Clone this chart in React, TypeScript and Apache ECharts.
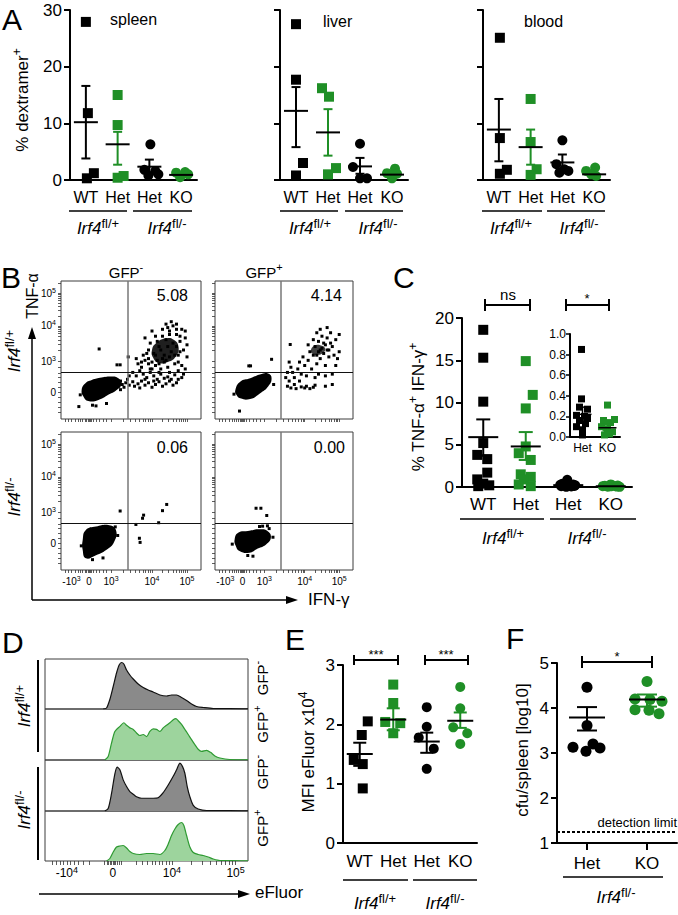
import React, { useEffect, useRef } from "react";
import * as echarts from "echarts";

const FONT = "'Liberation Sans', Arial, Helvetica, sans-serif";
const GREEN = "#1f8f26";
const BLACK = "#000000";

// ================= Panel A (% dextramer+) =================
const aCategories = ["WT", "Het", "Het", "KO"];
const aYTicks = [0, 10, 20, 30];

const spleenWT = [27.9, 11.8, 0.3, 1.2];
const spleenHetGreen = [15.0, 9.7, 0.4, 0.7];
const spleenHetBlack = [6.3, 1.8, 1.6, 1.0, 0.8];
const spleenKO = [1.3, 1.4, 0.5, 1.0];
const spleenMean = [10.2, 6.3, 2.35, 0.9];
const spleenSemLow = [3.8, 2.7, 1.2, 0.8];
const spleenSemHigh = [16.6, 8.5, 3.6, 1.0];
const spleenJitter = [[0, 2, 1, 8], [0, 0, 0, 6], [1, -5, 6, 9, -1], [-5, 4, -1, 7]];

const liverWT = [27.5, 17.7, 3.0, 0.8];
const liverHetGreen = [16.2, 14.7, 2.1, 1.0];
const liverHetBlack = [6.4, 2.3, 0.3, 0.3];
const liverKO = [2.0, 1.2, 0.3, 1.1];
const liverMean = [12.2, 8.4, 2.4, 0.95];
const liverSemLow = [5.8, 4.3, 1.1, 0.6];
const liverSemHigh = [16.4, 12.5, 3.9, 1.3];
const liverJitter = [[0, 0, 7, 0], [-6, 1, 8, 0], [0, -7, 0, 7], [3, -5, 0, 5]];

const bloodWT = [25.1, 7.4, 1.1, 1.8];
const bloodHetGreen = [14.3, 6.7, 1.9, 0.9];
const bloodHetBlack = [7.0, 2.8, 1.9, 1.3, 1.6];
const bloodKO = [2.2, 1.6, 1.0, 0.7];
const bloodMean = [8.9, 5.8, 3.1, 1.0];
const bloodSemLow = [3.3, 2.7, 1.8, 0.7];
const bloodSemHigh = [14.3, 8.9, 4.5, 1.3];
const bloodJitter = [[1, 1, 1, 8], [0, 0, 6, 0], [0, -6, 2, -3, 6], [1, -8, -3, 2]];

// ================= Panel C (% TNF-a+ IFN-g+) =================
const cCategories = ["WT", "Het", "Het", "KO"];
const cYTicks = [0, 5, 10, 15, 20];
const cWT = [18.6, 15.3, 10.1, 5.2, 3.8, 3.3, 1.7, 0.9, 0.4, 0.2, 0.1];
const cHetGreen = [14.9, 10.9, 9.3, 4.8, 4.0, 3.2, 1.5, 1.2, 0.9, 0.3, 0.1];
const cHetBlack = [0.85, 0.37, 0.29, 0.27, 0.21, 0.2, 0.18, 0.16, 0.13, 0.1, 0.07, 0.02];
const cKO = [0.31, 0.17, 0.16, 0.14, 0.1, 0.08, 0.05, 0.03, 0.02];
const cMean = [5.9, 4.8, 0.22, 0.09];
const cSemLow = [3.7, 3.2, 0.15, 0.06];
const cSemHigh = [8.0, 6.5, 0.29, 0.12];
const cJitter = [
  [0, 0, 0, 0, -6, 4, 4, -6, 0, 6, -5],
  [0, 7, 0, 0, -7, 5, -5, 5, -2, -7, 5],
  [-1, -6, 5, -8, 2, 7, -4, 0, 6, -7, 3, -2],
  [0, 7, -6, 3, -8, 0, 6, -3, 9],
];
const insetCategories = ["Het", "KO"];
const insetMean = [0.22, 0.09];
const insetSemLow = [0.15, 0.06];
const insetSemHigh = [0.29, 0.12];
const insetJitter = [[-1, -1, -3, 5, -6, 2, 5, -3, 3, -6, 0, 0], [0, 7, -4, 3, -6, 0, 5, 2, -3]];

// ================= Panel E (MFI eFluor) =================
const eCategories = ["WT", "Het", "Het", "KO"];
const eWT = [2.05, 1.82, 1.4, 1.33, 0.92];
const eHetGreen = [2.67, 2.36, 2.04, 2.02, 1.85];
const eHetBlack = [2.29, 1.96, 1.78, 1.59, 1.25];
const eKO = [2.63, 2.27, 1.95, 1.85, 1.67];
const eMean = [1.5, 2.08, 1.71, 2.06];
const eSemLow = [1.3, 1.9, 1.52, 1.94];
const eSemHigh = [1.69, 2.27, 1.86, 2.2];
const eJitter = [[8, 2, -6, 3, 3], [0, 0, -8, 7, 0], [0, 0, -8, 7, 0], [0, 0, -7, 7, 0]];

// ================= Panel F (cfu/spleen) =================
const fCategories = ["Het", "KO"];
const fHet = [4.46, 3.61, 3.13, 3.04, 3.11, 3.2];
const fKO = [4.59, 4.2, 4.19, 4.15, 3.96, 3.95, 3.87];
const fMean = [3.79, 4.19];
const fSemLow = [3.5, 4.03];
const fSemHigh = [4.02, 4.3];
const fJitter = [[0, 0, -14, -1, 13, 6], [0, -12, 3, 15, -12, 2, 12]];
const detectionLimit = 1.25;

// ================= Panel B (flow plots, display-scale units) =================
const flowGateX = 1.91;
const flowGateY = 1.36;
const flowXLabelVals = [0.3, 0.8, 1.43, 2.6, 3.6];
const flowXLabelText = ["{b|-10}{s|3}", "{b|0}", "{b|10}{s|3}", "{b|10}{s|4}", "{b|10}{s|5}"];
const flowYLabelVals = [0.78, 1.68, 2.7, 3.65];
const flowYLabelText = ["{b|0}", "{b|10}{s|3}", "{b|10}{s|4}", "{b|10}{s|5}"];
const flowQuadrantValues = ["5.08", "4.14", "0.06", "0.00"];

const flowTLCore = [[0.59, 0.84], [0.69, 1.03], [0.88, 1.13], [1.16, 1.2], [1.45, 1.23], [1.64, 1.18], [1.73, 1.03], [1.59, 0.84], [1.35, 0.7], [1.07, 0.55], [0.78, 0.52], [0.64, 0.65]];
const flowTLCloudCore = [[2.72, 2.2], [2.97, 2.33], [3.22, 2.3], [3.36, 2.08], [3.27, 1.8], [3.07, 1.66], [2.8, 1.62], [2.63, 1.78], [2.6, 2.0]];
const flowTLDots = [
  [1.65, 0.95], [1.7, 1.1], [1.8, 0.92], [1.75, 1.0], [1.85, 1.05], [1.95, 0.98], [2.05, 1.08], [2.1, 0.95], [2.2, 1.02], [2.3, 1.1], [2.25, 0.9], [2.4, 0.98], [2.5, 1.05], [2.45, 1.2], [2.6, 0.92], [2.7, 1.0], [2.8, 1.08], [2.9, 0.95], [3.0, 1.02], [3.1, 1.1], [3.2, 0.98], [3.3, 1.05], [2.35, 1.3], [2.55, 1.35], [2.65, 1.25], [2.85, 1.3], [3.05, 1.22], [3.25, 1.28], [2.75, 1.15], [2.95, 1.18], [3.35, 1.15], [1.9, 1.15], [2.15, 1.25], [2.65, 1.1], [3.15, 1.15], [3.45, 1.2], [3.5, 1.3], [2.4, 1.15], [2.05, 1.35], [1.95, 1.25],
  [2.3, 1.5], [2.4, 1.7], [2.45, 1.9], [2.5, 1.6], [2.55, 2.2], [2.6, 1.45], [2.65, 1.9], [2.7, 2.4], [2.75, 1.7], [2.8, 2.1], [2.85, 1.45], [2.9, 2.6], [2.95, 1.85], [3.0, 2.3], [3.05, 1.5], [3.1, 2.55], [3.15, 1.95], [3.2, 2.7], [3.25, 1.6], [3.3, 2.45], [3.35, 1.85], [3.4, 2.25], [3.45, 1.55], [3.5, 2.0], [3.55, 2.35], [3.45, 2.6], [3.15, 2.82], [3.3, 2.75], [2.6, 2.55], [2.5, 2.0], [2.35, 1.85], [2.2, 1.6], [2.25, 1.4], [2.15, 1.75], [2.4, 2.35], [3.0, 2.75], [3.6, 1.8], [3.55, 1.45], [3.35, 1.4], [3.1, 1.35], [2.8, 1.35], [2.7, 1.55], [2.95, 1.65], [3.6, 2.15], [2.6, 1.65], [2.7, 1.85], [2.8, 1.6], [2.85, 2.0], [2.9, 1.75], [3.0, 1.7], [3.05, 2.1], [3.1, 1.8], [3.2, 2.2], [3.25, 1.85], [3.3, 2.1], [3.35, 1.65], [3.4, 1.95], [2.75, 2.25], [2.9, 2.4], [3.1, 2.45], [3.4, 2.4], [2.55, 1.45], [2.3, 1.65], [2.5, 1.75], [3.3, 2.6], [3.55, 2.55], [3.05, 2.65],
  [1.09, 2.03], [1.6, 1.57], [1.69, 1.57], [1.92, 1.8], [0.51, 0.36], [0.9, 0.4], [1.0, 0.38], [1.3, 0.45], [1.7, 0.85], [0.55, 0.7],
];

const flowTRCore = [[0.59, 0.84], [0.73, 1.08], [1.02, 1.18], [1.3, 1.29], [1.54, 1.32], [1.64, 1.18], [1.54, 0.94], [1.3, 0.74], [1.02, 0.58], [0.73, 0.6], [0.62, 0.7]];
const flowTRCloudCore = [[2.78, 2.0], [2.88, 2.12], [3.05, 2.14], [3.19, 2.05], [3.14, 1.92], [2.96, 1.86], [2.82, 1.9]];
const flowTRDots = [
  [2.1, 0.95], [2.15, 1.1], [2.2, 0.9], [2.3, 1.0], [2.35, 0.88], [2.5, 0.93], [2.6, 0.9], [2.65, 0.95], [2.75, 0.88], [2.85, 0.92], [2.9, 0.98], [3.2, 0.95], [3.4, 1.0], [2.05, 1.2], [2.1, 1.35], [2.2, 1.5], [2.15, 1.65], [2.25, 1.35], [2.4, 1.45], [2.45, 1.65], [2.5, 1.3], [2.55, 1.8], [2.6, 1.55], [2.65, 1.25], [2.7, 1.7], [2.75, 1.95], [2.8, 1.45], [2.85, 1.85], [2.9, 2.1], [2.95, 1.6], [3.0, 1.95], [3.0, 2.25], [3.05, 1.75], [3.1, 2.05], [3.1, 2.4], [3.15, 1.9], [3.2, 2.15], [3.2, 1.55], [3.25, 2.35], [3.3, 1.8], [3.3, 2.0], [3.35, 2.5], [3.4, 2.1], [3.45, 1.85], [3.5, 2.3], [3.5, 1.55], [3.55, 1.75], [3.6, 2.45], [3.4, 1.3], [3.2, 1.25], [3.0, 1.3], [2.85, 2.3], [2.7, 2.15], [2.95, 2.5], [3.05, 2.6], [3.25, 2.65], [2.9, 1.2], [2.45, 1.1], [2.3, 1.2], [3.6, 1.95], [3.15, 2.2], [3.05, 2.0], [3.25, 2.0], [2.95, 1.85], [3.35, 2.2],
  [0.98, 1.54], [1.03, 1.54], [1.64, 1.73], [0.71, 0.23], [2.18, 2.16], [1.7, 1.0], [0.55, 0.72],
];

const flowBLCore = [[0.62, 0.87], [0.71, 1.16], [1.0, 1.26], [1.38, 1.3], [1.57, 1.16], [1.52, 0.82], [1.29, 0.58], [1.0, 0.43], [0.71, 0.34], [0.62, 0.58]];
const flowBLDots = [[1.69, 1.71], [2.14, 1.32], [2.36, 1.59], [2.33, 1.5], [2.24, 0.92], [2.26, 0.8], [2.79, 1.37], [2.9, 1.72], [3.02, 1.9], [0.58, 0.7], [1.62, 1.0], [1.55, 1.25], [0.9, 0.3], [1.2, 0.35]];

const flowBRCore = [[0.57, 0.89], [0.67, 1.08], [0.95, 1.13], [1.29, 1.18], [1.52, 1.13], [1.62, 0.94], [1.48, 0.74], [1.24, 0.62], [1.0, 0.5], [0.71, 0.55], [0.6, 0.7]];
const flowBRDots = [[1.19, 1.79], [1.33, 1.79], [1.5, 1.58], [1.29, 1.26], [1.38, 1.27], [1.52, 1.28], [1.57, 1.2], [0.5, 0.75], [1.68, 0.95], [0.95, 0.42], [1.1, 0.4]];

// ================= Panel D (eFluor histograms, display-scale x, normalised count) =================
const histLabelVals = [-0.78, 0, 1, 2.08];
const histLabelText = ["{b|-10}{s|4}", "{b|0}", "{b|10}{s|4}", "{b|10}{s|5}"];
const histRow1 = [[-0.164, 0], [-0.107, 0.02], [-0.051, 0.19], [0.006, 0.45], [0.062, 0.72], [0.107, 0.88], [0.147, 0.93], [0.186, 0.9], [0.232, 0.78], [0.288, 0.68], [0.345, 0.6], [0.429, 0.5], [0.514, 0.43], [0.599, 0.38], [0.684, 0.34], [0.797, 0.28], [0.91, 0.26], [0.994, 0.28], [1.08, 0.28], [1.164, 0.23], [1.249, 0.17], [1.333, 0.1], [1.418, 0.05], [1.531, 0.03], [1.701, 0.01], [1.983, 0.01], [2.29, 0.005]];
const histRow2 = [[-0.136, 0], [-0.079, 0.07], [-0.023, 0.33], [0.034, 0.56], [0.119, 0.66], [0.186, 0.73], [0.232, 0.68], [0.288, 0.63], [0.345, 0.6], [0.401, 0.53], [0.458, 0.48], [0.514, 0.5], [0.571, 0.46], [0.627, 0.56], [0.684, 0.61], [0.74, 0.6], [0.797, 0.56], [0.853, 0.63], [0.91, 0.68], [0.966, 0.73], [1.023, 0.79], [1.068, 0.81], [1.107, 0.77], [1.164, 0.7], [1.22, 0.6], [1.277, 0.5], [1.333, 0.4], [1.39, 0.3], [1.446, 0.21], [1.503, 0.17], [1.588, 0.19], [1.655, 0.15], [1.729, 0.08], [1.814, 0.04], [1.983, 0.01], [2.29, 0.005]];
const histRow3 = [[-0.136, 0], [-0.079, 0.05], [-0.023, 0.34], [0.034, 0.73], [0.073, 0.86], [0.119, 0.81], [0.175, 0.61], [0.232, 0.48], [0.288, 0.38], [0.345, 0.33], [0.401, 0.28], [0.486, 0.25], [0.599, 0.25], [0.684, 0.25], [0.768, 0.26], [0.853, 0.36], [0.938, 0.51], [1.023, 0.68], [1.08, 0.81], [1.136, 0.94], [1.181, 0.87], [1.22, 0.74], [1.26, 0.48], [1.305, 0.28], [1.362, 0.11], [1.446, 0.04], [1.588, 0.01], [1.983, 0.01], [2.29, 0.005]];
const histRow4 = [[-0.107, 0], [-0.051, 0.05], [0.006, 0.18], [0.062, 0.28], [0.119, 0.3], [0.175, 0.31], [0.232, 0.26], [0.288, 0.19], [0.345, 0.15], [0.458, 0.13], [0.571, 0.15], [0.684, 0.15], [0.797, 0.13], [0.881, 0.21], [0.938, 0.34], [0.994, 0.51], [1.051, 0.64], [1.107, 0.73], [1.164, 0.77], [1.203, 0.71], [1.249, 0.51], [1.305, 0.28], [1.362, 0.17], [1.446, 0.13], [1.531, 0.11], [1.616, 0.08], [1.701, 0.04], [1.814, 0.01], [1.983, 0.01], [2.29, 0.005]];
const histRowColors = [["#8a8a8a", "#111111"], ["#9dd49d", "#2e9a32"], ["#8a8a8a", "#111111"], ["#9dd49d", "#2e9a32"]];
const histRowLabels = ["{b|GFP}{s|-}", "{b|GFP}{s|+}", "{b|GFP}{s|-}", "{b|GFP}{s|+}"];

// ---------- helpers ----------
const supRich = (base: number, sup: number) => ({
  b: { fontSize: base, lineHeight: base + 6, fontFamily: FONT, fill: BLACK, color: BLACK },
  i: { fontSize: base, lineHeight: base + 6, fontStyle: "italic", fontFamily: FONT, fill: BLACK, color: BLACK },
  s: { fontSize: sup, verticalAlign: "top", fontFamily: FONT, fill: BLACK, color: BLACK },
});

function label(x: number, y: number, text: string, o: any = {}) {
  const size = o.size || 16;
  return {
    type: "text",
    x,
    y,
    rotation: o.rot || 0,
    silent: true,
    style: {
      text,
      fontSize: size,
      fontFamily: FONT,
      fill: BLACK,
      align: o.align || "center",
      verticalAlign: "middle",
      rich: o.rich ? supRich(size, o.sup || Math.round(size * 0.72)) : undefined,
    },
  };
}
function gline(x1: number, y1: number, x2: number, y2: number, w = 1.5) {
  return { type: "line", silent: true, shape: { x1, y1, x2, y2 }, style: { stroke: BLACK, lineWidth: w } };
}
function bracket(x1: number, x2: number, y: number, h: number) {
  return [gline(x1, y, x2, y, 2), gline(x1, y - h, x1, y + h, 2), gline(x2, y - h, x2, y + h, 2)];
}
function arrowHead(points: number[][]) {
  return { type: "polygon", silent: true, shape: { points }, style: { fill: BLACK } };
}
function lookup(vals: number[], texts: string[]) {
  return (v: number) => {
    const k = vals.findIndex((x) => Math.abs(x - v) < 1e-6);
    return k >= 0 ? texts[k] : "";
  };
}

function dotSeries(ax: number, groups: number[][], jitter: number[][], symbols: string[], colors: string[], size: number) {
  return groups.map((vals, g) => ({
    type: "scatter",
    xAxisIndex: ax,
    yAxisIndex: ax,
    symbol: symbols[g],
    symbolSize: size,
    silent: true,
    z: 3,
    itemStyle: { color: colors[g], opacity: 1 },
    data: vals.map((v, i) => ({ value: [g, v], symbolOffset: [jitter[g][i] || 0, 0] })),
  }));
}

function meanSemSeries(ax: number, means: number[], lows: number[], highs: number[], colors: string[], halfMean: number, halfCap: number, width: number) {
  return {
    type: "custom",
    xAxisIndex: ax,
    yAxisIndex: ax,
    z: 6,
    silent: true,
    data: means.map((m, i) => [i, m, lows[i], highs[i]]),
    encode: { x: 0, y: [1, 2, 3] },
    renderItem: (params: any, api: any) => {
      const i = api.value(0);
      const pm = api.coord([i, api.value(1)]);
      const pl = api.coord([i, api.value(2)]);
      const ph = api.coord([i, api.value(3)]);
      const c = colors[params.dataIndex];
      const ws = { stroke: c, lineWidth: width };
      return {
        type: "group",
        children: [
          { type: "line", shape: { x1: pl[0], y1: pl[1], x2: ph[0], y2: ph[1] }, style: ws },
          { type: "line", shape: { x1: pl[0] - halfCap, y1: pl[1], x2: pl[0] + halfCap, y2: pl[1] }, style: ws },
          { type: "line", shape: { x1: ph[0] - halfCap, y1: ph[1], x2: ph[0] + halfCap, y2: ph[1] }, style: ws },
          { type: "line", shape: { x1: pm[0] - halfMean, y1: pm[1], x2: pm[0] + halfMean, y2: pm[1] }, style: { stroke: BLACK, lineWidth: width } },
        ],
      };
    },
  };
}

function catX(idx: number, cats: string[], size: number, margin: number, extra: any = {}) {
  return {
    type: "category",
    gridIndex: idx,
    data: cats,
    boundaryGap: true,
    axisLine: { show: true, lineStyle: { color: BLACK, width: 2 } },
    axisTick: { show: false },
    axisLabel: { color: BLACK, fontSize: size, fontFamily: FONT, margin, interval: 0 },
    splitLine: { show: false },
    ...extra,
  };
}
function valY(idx: number, ticks: number[], showLabel: boolean, size: number, extra: any = {}) {
  return {
    type: "value",
    gridIndex: idx,
    min: ticks[0],
    max: ticks[ticks.length - 1],
    interval: ticks[1] - ticks[0],
    axisLine: { show: true, lineStyle: { color: BLACK, width: 2 } },
    axisTick: { show: true, length: 6, lineStyle: { color: BLACK, width: 2 } },
    axisLabel: { show: showLabel, color: BLACK, fontSize: size, fontFamily: FONT, margin: 8 },
    splitLine: { show: false },
    ...extra,
  };
}

// flow axis tick marks (decorative log-like ticks)
const flowXTicks = (() => {
  const t = [0.12, 0.2, 0.3, 0.4, 0.5, 0.56, 0.62, 0.68, 0.73, 0.77, 0.8, 0.83, 0.86, 0.92, 1.0, 1.1, 1.2, 1.3, 1.43, 2.6, 3.6];
  for (let k = 2; k <= 9; k++) { t.push(1.43 + 1.17 * Math.log10(k)); t.push(2.6 + 1.0 * Math.log10(k)); }
  return t;
})();
const flowYTicks = (() => {
  const t = [0.2, 0.35, 0.5, 0.64, 0.78, 0.92, 1.06, 1.2, 1.34, 1.5, 1.68, 2.7, 3.65, 3.94];
  for (let k = 2; k <= 9; k++) { t.push(1.68 + 1.02 * Math.log10(k)); t.push(2.7 + 0.95 * Math.log10(k)); }
  return t;
})();
const histTicks = (() => {
  const t = [-1.02, -0.96, -0.9, -0.84, -0.78, -0.72, -0.66, -0.58, -0.5, -0.4, -0.15, -0.1, -0.07, -0.04, -0.02, 0, 0.02, 0.04, 0.07, 0.1, 0.15, 0.4, 0.5, 0.58, 0.66, 0.72, 0.78, 0.84, 0.9, 0.96, 1, 2.08];
  for (let k = 2; k <= 9; k++) t.push(1 + 1.08 * Math.log10(k));
  return t;
})();

function buildOption() {
  const grids: any[] = [
    { left: 70, top: 10, width: 127, height: 170 }, // 0 spleen
    { left: 280, top: 10, width: 128, height: 170 }, // 1 liver
    { left: 483, top: 10, width: 127, height: 170 }, // 2 blood
    { left: 61, top: 281, width: 140, height: 138 }, // 3 flow TL
    { left: 215, top: 281, width: 138, height: 138 }, // 4 flow TR
    { left: 61, top: 432, width: 140, height: 138 }, // 5 flow BL
    { left: 215, top: 432, width: 138, height: 138 }, // 6 flow BR
    { left: 462, top: 318, width: 170, height: 169 }, // 7 C
    { left: 570, top: 334, width: 50, height: 103 }, // 8 C inset
    { left: 45, top: 659, width: 203, height: 50 }, // 9 hist1
    { left: 45, top: 709, width: 203, height: 51 }, // 10 hist2
    { left: 45, top: 760, width: 203, height: 51 }, // 11 hist3
    { left: 45, top: 811, width: 203, height: 50 }, // 12 hist4
    { left: 343, top: 665, width: 134, height: 178 }, // 13 E
    { left: 557, top: 663, width: 120, height: 180 }, // 14 F
  ].map((g, i) => ({
    ...g,
    containLabel: false,
    outerBoundsMode: "none",
    show: (i >= 3 && i <= 6) || (i >= 9 && i <= 12),
    borderColor: "#3c3c3c",
    borderWidth: 1,
    backgroundColor: "transparent",
  }));

  const xAxes: any[] = [];
  const yAxes: any[] = [];
  // A
  [0, 1, 2].forEach((i) => {
    xAxes.push(catX(i, aCategories, 16, 9));
    yAxes.push(valY(i, aYTicks, i === 0, 17));
  });
  // flow
  const flowRich = { b: { fontSize: 10, lineHeight: 13, fontFamily: FONT, color: BLACK }, s: { fontSize: 7, verticalAlign: "top", fontFamily: FONT, color: BLACK } };
  [3, 4, 5, 6].forEach((i) => {
    const bottom = i >= 5;
    const left = i === 3 || i === 5;
    xAxes.push({
      type: "value", gridIndex: i, min: 0, max: 4,
      axisLine: { show: false }, splitLine: { show: false },
      axisTick: { show: true, customValues: flowXTicks, length: 3, lineStyle: { color: "#333", width: 0.8 } },
      axisLabel: { show: bottom, customValues: flowXLabelVals, formatter: lookup(flowXLabelVals, flowXLabelText), rich: flowRich, margin: 5 },
    });
    yAxes.push({
      type: "value", gridIndex: i, min: 0, max: 4,
      axisLine: { show: false }, splitLine: { show: false },
      axisTick: { show: true, customValues: flowYTicks, length: 3, lineStyle: { color: "#333", width: 0.8 } },
      axisLabel: { show: left, customValues: flowYLabelVals, formatter: lookup(flowYLabelVals, flowYLabelText), rich: flowRich, margin: 5 },
    });
  });
  // C main + inset
  xAxes.push(catX(7, cCategories, 17, 9));
  yAxes.push(valY(7, cYTicks, true, 17));
  xAxes.push(catX(8, insetCategories, 12, 5));
  yAxes.push(valY(8, [0, 0.2, 0.4, 0.6, 0.8, 1.0], true, 12, {
    axisTick: { show: true, length: 4, lineStyle: { color: BLACK, width: 1.5 } },
    axisLabel: { show: true, color: BLACK, fontSize: 12, fontFamily: FONT, margin: 4, formatter: (v: number) => v.toFixed(1) },
  }));
  // hist
  const histRich = { b: { fontSize: 12, lineHeight: 16, fontFamily: FONT, color: BLACK }, s: { fontSize: 9, verticalAlign: "top", fontFamily: FONT, color: BLACK } };
  [9, 10, 11, 12].forEach((i) => {
    const last = i === 12;
    xAxes.push({
      type: "value", gridIndex: i, min: -1.15, max: 2.29,
      axisLine: { show: false }, splitLine: { show: false },
      axisTick: { show: last, customValues: histTicks, length: 4, lineStyle: { color: "#333", width: 0.8 } },
      axisLabel: { show: last, customValues: histLabelVals, formatter: lookup(histLabelVals, histLabelText), rich: histRich, margin: 4 },
    });
    yAxes.push({ type: "value", gridIndex: i, min: 0, max: 1, show: false, splitLine: { show: false } });
  });
  // E
  xAxes.push(catX(13, eCategories, 17, 10));
  yAxes.push(valY(13, [0, 1, 2, 3], true, 17));
  // F
  xAxes.push(catX(14, fCategories, 17, 12, { axisTick: { show: true, alignWithLabel: true, length: 7, lineStyle: { color: BLACK, width: 2 } } }));
  yAxes.push(valY(14, [1, 2, 3, 4, 5], true, 17));

  const sym4 = ["rect", "rect", "circle", "circle"];
  const col4 = [BLACK, GREEN, BLACK, GREEN];
  const series: any[] = [];
  // A
  series.push(...dotSeries(0, [spleenWT, spleenHetGreen, spleenHetBlack, spleenKO], spleenJitter, sym4, col4, 10));
  series.push(meanSemSeries(0, spleenMean, spleenSemLow, spleenSemHigh, col4, 12, 4.5, 2));
  series.push(...dotSeries(1, [liverWT, liverHetGreen, liverHetBlack, liverKO], liverJitter, sym4, col4, 10));
  series.push(meanSemSeries(1, liverMean, liverSemLow, liverSemHigh, col4, 12, 4.5, 2));
  series.push(...dotSeries(2, [bloodWT, bloodHetGreen, bloodHetBlack, bloodKO], bloodJitter, sym4, col4, 10));
  series.push(meanSemSeries(2, bloodMean, bloodSemLow, bloodSemHigh, col4, 12, 4.5, 2));

  // flow plots
  const flowSets = [
    { ax: 3, dots: flowTLDots, polys: [flowTLCore, flowTLCloudCore], op: [1, 0.88] },
    { ax: 4, dots: flowTRDots, polys: [flowTRCore, flowTRCloudCore], op: [1, 0.75] },
    { ax: 5, dots: flowBLDots, polys: [flowBLCore], op: [1] },
    { ax: 6, dots: flowBRDots, polys: [flowBRCore], op: [1] },
  ];
  flowSets.forEach((f) => {
    series.push({
      type: "custom", xAxisIndex: f.ax, yAxisIndex: f.ax, silent: true, z: 2,
      data: f.polys.map((_, k) => [k]),
      renderItem: (params: any, api: any) => ({
        type: "polygon",
        shape: { points: f.polys[params.dataIndex].map((p) => api.coord(p)), smooth: 0.5 },
        style: { fill: BLACK, opacity: f.op[params.dataIndex] },
      }),
    });
    series.push({
      type: "scatter", xAxisIndex: f.ax, yAxisIndex: f.ax, silent: true, z: 3,
      symbol: "rect", symbolSize: 3, itemStyle: { color: BLACK, opacity: 1 },
      data: f.dots,
      markLine: {
        silent: true, symbol: ["none", "none"], animation: false, label: { show: false },
        data: [
          { xAxis: flowGateX, lineStyle: { color: "#777", width: 1.5, type: "solid" } },
          { yAxis: flowGateY, lineStyle: { color: "#111", width: 1, type: "solid" } },
        ],
      },
    });
  });

  // C
  series.push(...dotSeries(7, [cWT, cHetGreen, cHetBlack, cKO], cJitter, sym4, col4, 10));
  series.push(meanSemSeries(7, cMean, cSemLow, cSemHigh, col4, 15, 7, 2));
  series.push(...dotSeries(8, [cHetBlack, cKO], insetJitter, ["rect", "rect"], [BLACK, GREEN], 7));
  series.push(meanSemSeries(8, insetMean, insetSemLow, insetSemHigh, [BLACK, GREEN], 9, 5, 1.5));

  // D histograms
  [histRow1, histRow2, histRow3, histRow4].forEach((d, r) => {
    series.push({
      type: "line", xAxisIndex: 9 + r, yAxisIndex: 9 + r, silent: true,
      data: d, showSymbol: false, symbol: "none", smooth: 0.25,
      lineStyle: { color: histRowColors[r][1], width: 1.2 },
      areaStyle: { color: histRowColors[r][0], opacity: 1 },
    });
  });

  // E
  series.push(...dotSeries(13, [eWT, eHetGreen, eHetBlack, eKO], eJitter, sym4, col4, 10));
  series.push(meanSemSeries(13, eMean, eSemLow, eSemHigh, col4, 13, 6.5, 2));

  // F
  const fSeries = dotSeries(14, [fHet, fKO], fJitter, ["circle", "circle"], [BLACK, GREEN], 11);
  (fSeries[0] as any).markLine = {
    silent: true, symbol: ["none", "none"], animation: false,
    data: [{ yAxis: detectionLimit }],
    lineStyle: { color: BLACK, width: 2, type: [3, 2] },
    label: { show: true, position: "insideEndTop", formatter: "detection limit", fontSize: 13, color: BLACK, fontFamily: FONT, distance: [0, 3] },
  };
  series.push(...fSeries);
  series.push(meanSemSeries(14, fMean, fSemLow, fSemHigh, [BLACK, GREEN], 18, 10, 2));

  // ---------- annotations ----------
  const g: any[] = [];
  [["A", 2, 19], ["B", 1, 277], ["C", 393, 277], ["D", 2, 642], ["E", 285, 639], ["F", 506, 638]].forEach(([t, x, y]: any) =>
    g.push(label(x, y, t, { size: 30, align: "left" }))
  );
  g.push(label(110, 19, "spleen", { size: 16, align: "left" }));
  g.push(label(323, 21, "liver", { size: 16, align: "left" }));
  g.push(label(524, 21, "blood", { size: 16, align: "left" }));
  g.push(label(22, 100, "{b|% dextramer}{s|+}", { size: 17, rich: true, rot: Math.PI / 2 }));
  const underlines = [
    [69, 127, 211], [133, 192, 211], [280, 338, 211], [345, 403, 211], [482, 542, 211], [547, 605, 211],
    [460, 544, 519], [550, 636, 519], [343, 408, 880], [413, 477, 880], [563, 663, 877],
  ];
  underlines.forEach(([a, b, y]) => g.push(gline(a, y, b, y, 1.5)));
  const genos = [
    [98, 228, "+"], [167, 228, "-"], [310, 228, "+"], [378, 228, "-"], [511, 228, "+"], [579, 228, "-"],
    [503, 538, "+"], [587, 538, "-"], [375, 903, "+"], [445, 903, "-"], [616, 897, "-"],
  ];
  genos.forEach(([x, y, s]: any) => g.push(label(x, y, "{i|Irf4}{s|fl/" + s + "}", { size: 17, sup: 13, rich: true })));

  // B
  g.push(label(126, 272, "{b|GFP}{s|-}", { size: 15, sup: 11, rich: true }));
  g.push(label(264, 272, "{b|GFP}{s|+}", { size: 15, sup: 11, rich: true }));
  g.push(label(32, 296, "TNF-α", { size: 16, rot: Math.PI / 2 }));
  g.push(label(308, 599, "IFN-γ", { size: 17, align: "left" }));
  g.push(label(14, 351, "{i|Irf4}{s|fl/+}", { size: 17, sup: 13, rich: true, rot: Math.PI / 2 }));
  g.push(label(14, 497, "{i|Irf4}{s|fl/-}", { size: 17, sup: 13, rich: true, rot: Math.PI / 2 }));
  g.push(gline(32, 600, 32, 336, 1.5));
  g.push(arrowHead([[32, 327], [28, 339], [36, 339]]));
  g.push(gline(32, 600, 288, 600, 1.5));
  g.push(arrowHead([[298, 600], [286, 596], [286, 604]]));
  [[188, 295], [342, 295], [188, 447], [345, 447]].forEach(([x, y], k) =>
    g.push(label(x, y, flowQuadrantValues[k], { size: 16, align: "right" }))
  );

  // C
  g.push(label(418, 407, "{b|% TNF-α}{s|+}{b| IFN-γ}{s|+}", { size: 17, rich: true, rot: Math.PI / 2 }));
  g.push(...bracket(485, 530, 305, 6));
  g.push(label(508, 294, "ns", { size: 15 }));
  g.push(...bracket(566, 609, 305, 6));
  g.push(label(587, 298, "*", { size: 13 }));

  // D
  g.push(gline(38, 660, 38, 752, 2));
  g.push(gline(38, 767, 38, 860, 2));
  g.push(label(24, 706, "{i|Irf4}{s|fl/+}", { size: 17, sup: 13, rich: true, rot: Math.PI / 2 }));
  g.push(label(24, 810, "{i|Irf4}{s|fl/-}", { size: 17, sup: 13, rich: true, rot: Math.PI / 2 }));
  [678, 724, 772, 828].forEach((y, r) => g.push(label(262, y, histRowLabels[r], { size: 15, sup: 11, rich: true, rot: Math.PI / 2 })));
  g.push(gline(39, 894, 240, 894, 1.5));
  g.push(arrowHead([[250, 894], [238, 890], [238, 898]]));
  g.push(label(255, 892, "eFluor", { size: 17, align: "left" }));

  // E
  g.push(label(308, 752, "{b|MFI eFluor x10}{s|4}", { size: 17, rich: true, rot: Math.PI / 2 }));
  g.push(...bracket(354, 398, 660, 5));
  g.push(label(376, 654, "***", { size: 13 }));
  g.push(...bracket(425, 468, 660, 5));
  g.push(label(446, 654, "***", { size: 13 }));

  // F
  g.push(label(522, 750, "cfu/spleen [log10]", { size: 17, rot: Math.PI / 2 }));
  g.push(...bracket(582, 652, 662, 6));
  g.push(label(617, 656, "*", { size: 13 }));

  return {
    animation: false,
    backgroundColor: "#ffffff",
    textStyle: { fontFamily: FONT },
    grid: grids,
    xAxis: xAxes,
    yAxis: yAxes,
    series,
    graphic: g,
  };
}

export default function App() {
  const ref = useRef<HTMLDivElement>(null);
  useEffect(() => {
    if (!ref.current) return;
    const chart = echarts.init(ref.current, null, { renderer: "svg" });
    chart.setOption(buildOption() as any);
    return () => chart.dispose();
  }, []);
  return (
    <div
      ref={ref}
      style={{ position: "absolute", left: 0, top: 0, width: 678, height: 915, background: "#fff" }}
    />
  );
}
